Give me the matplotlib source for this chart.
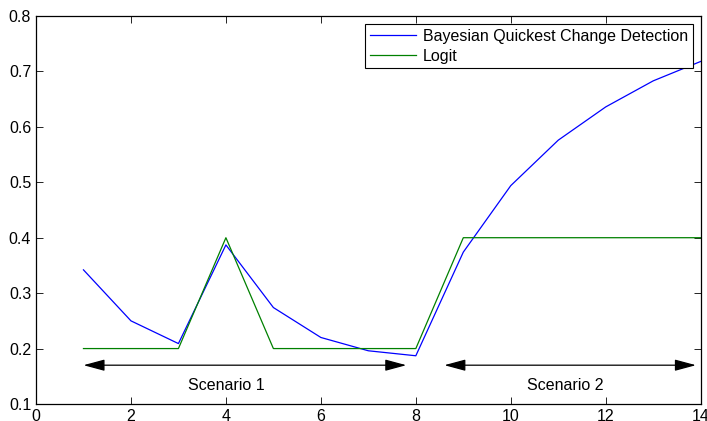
import matplotlib.pyplot as plt
import numpy as np

plt.rcParams['font.family'] = ['Liberation Sans', 'DejaVu Sans']

steps = np.arange(1, 15)
bqcd = [0.342, 0.250, 0.209, 0.387, 0.274, 0.220, 0.196, 0.187,
        0.374, 0.494, 0.576, 0.636, 0.683, 0.718]
logit = [0.2, 0.2, 0.2, 0.4, 0.2, 0.2, 0.2, 0.2,
         0.4, 0.4, 0.4, 0.4, 0.4, 0.4]

fig = plt.figure(figsize=(7.07, 4.21), dpi=100)
ax = fig.add_axes([0.0509, 0.0404, 0.9402, 0.9216])

ax.plot(steps, bqcd, color='#0000ff', lw=0.9, label='Bayesian Quickest Change Detection')
ax.plot(steps, logit, color='#008000', lw=0.9, label='Logit')

ax.set_xlim(0, 14)
ax.set_ylim(0.1, 0.8)
ax.set_xticks(np.arange(0, 15, 2))
ax.set_yticks(np.arange(0.1, 0.81, 0.1))
ax.set_yticklabels([f'{v:.1f}' for v in np.arange(0.1, 0.81, 0.1)])
ax.tick_params(direction='in', top=True, right=True, labelsize=11.5, length=5, width=0.6)
for s in ax.spines.values():
    s.set_linewidth(0.9)

arrow = dict(arrowstyle='<|-|>,head_length=1.3,head_width=0.35', color='black', lw=0.9,
             shrinkA=0, shrinkB=0)
ax.annotate('', xy=(7.8, 0.17), xytext=(1.0, 0.17), arrowprops=arrow)
ax.annotate('', xy=(13.9, 0.17), xytext=(8.6, 0.17), arrowprops=arrow)
ax.text(4.0, 0.134, 'Scenario 1', ha='center', va='center', fontsize=11.5)
ax.text(11.15, 0.134, 'Scenario 2', ha='center', va='center', fontsize=11.5)

leg = ax.legend(loc='upper right', fontsize=11.5, fancybox=False, framealpha=1,
                edgecolor='black', borderaxespad=0.5, handlelength=2.9,
                borderpad=0.3, labelspacing=0.3, handletextpad=0.4)
leg.get_frame().set_linewidth(0.8)

fig.savefig('out.png', dpi=100)
